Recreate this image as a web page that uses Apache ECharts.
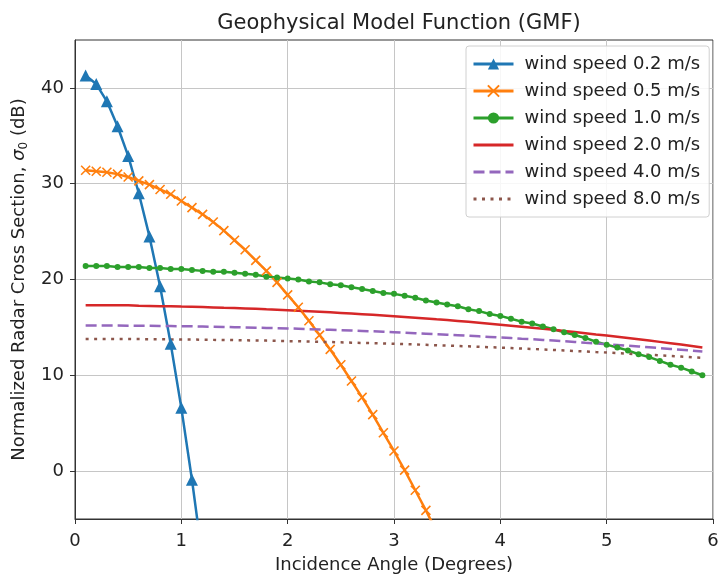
<!DOCTYPE html>
<html>
<head>
<meta charset="utf-8">
<script src="https://cdn.jsdelivr.net/npm/echarts@6/dist/echarts.min.js"></script>
<style>html,body{margin:0;padding:0;background:#fff;}#c{width:722px;height:575px;}</style>
</head>
<body>
<div id="c"></div>
<script>
// Incidence angle samples (degrees)
const angles = [0.1,0.2,0.3,0.4,0.5,0.6,0.7,0.8,0.9,1.0,1.1,1.2,1.3,1.4,1.5,1.6,1.7,1.8,1.9,2.0,
  2.1,2.2,2.3,2.4,2.5,2.6,2.7,2.8,2.9,3.0,3.1,3.2,3.3,3.4,3.5,3.6,3.7,3.8,3.9,4.0,
  4.1,4.2,4.3,4.4,4.5,4.6,4.7,4.8,4.9,5.0,5.1,5.2,5.3,5.4,5.5,5.6,5.7,5.8,5.9];

const seriesNames = ['wind speed 0.2 m/s','wind speed 0.5 m/s','wind speed 1.0 m/s',
  'wind speed 2.0 m/s','wind speed 4.0 m/s','wind speed 8.0 m/s'];

const ws02 = [41.3,40.4,38.6,36.0,32.9,29.0,24.5,19.3,13.3,6.6,-0.9,-9.2,-18.2];
const ws05 = [31.4,31.3,31.2,31.0,30.7,30.3,29.9,29.4,28.9,28.2,27.5,26.8,26.0,25.1,24.1,23.1,22.0,20.9,19.7,18.4,
  17.1,15.7,14.2,12.7,11.1,9.4,7.7,5.9,4.0,2.1,0.1,-2.0,-4.1,-6.3];
const ws10 = [21.4,21.4,21.4,21.3,21.3,21.3,21.2,21.2,21.1,21.1,21.0,20.9,20.8,20.8,20.7,20.6,20.5,20.3,20.2,20.1,
  20.0,19.8,19.7,19.5,19.4,19.2,19.0,18.8,18.6,18.5,18.3,18.1,17.8,17.6,17.4,17.2,16.9,16.7,16.4,16.2,
  15.9,15.6,15.4,15.1,14.8,14.5,14.2,13.9,13.5,13.2,12.9,12.6,12.2,11.9,11.5,11.1,10.8,10.4,10.0];
const ws20 = [17.3,17.3,17.3,17.3,17.3,17.25,17.24,17.22,17.2,17.17,17.15,17.12,17.09,17.05,17.02,16.98,16.94,16.89,16.85,16.8,
  16.74,16.69,16.63,16.57,16.51,16.45,16.38,16.31,16.24,16.17,16.09,16.01,15.93,15.84,15.76,15.67,15.58,15.48,15.38,15.28,
  15.18,15.08,14.97,14.86,14.75,14.63,14.52,14.4,14.27,14.15,14.02,13.89,13.76,13.63,13.49,13.35,13.21,13.06,12.91];
const ws40 = [15.2,15.2,15.19,15.19,15.18,15.17,15.16,15.15,15.14,15.12,15.11,15.09,15.07,15.05,15.02,15.0,14.97,14.95,14.92,14.89,
  14.86,14.82,14.79,14.75,14.71,14.67,14.63,14.59,14.54,14.5,14.45,14.4,14.35,14.3,14.24,14.19,14.13,14.07,14.01,13.95,
  13.89,13.82,13.76,13.69,13.62,13.55,13.48,13.4,13.33,13.25,13.17,13.09,13.01,12.93,12.84,12.75,12.67,12.58,12.48];
const ws80 = [13.8,13.8,13.8,13.79,13.79,13.78,13.77,13.76,13.75,13.74,13.73,13.72,13.7,13.69,13.67,13.65,13.64,13.62,13.59,13.57,
  13.55,13.52,13.5,13.47,13.44,13.41,13.38,13.35,13.32,13.29,13.25,13.22,13.18,13.14,13.1,13.06,13.02,12.98,12.93,12.89,
  12.84,12.79,12.75,12.7,12.65,12.59,12.54,12.49,12.43,12.38,12.32,12.26,12.2,12.14,12.08,12.01,11.95,11.88,11.82];

const xTicks = [0,1,2,3,4,5,6];
const yTicks = [0,10,20,30,40];

function pairs(vals){ return vals.map((v,i)=>[angles[i], v]); }

const FONT = 'DejaVu Sans';
const chart = echarts.init(document.getElementById('c'), null, {renderer:'canvas'});

const xMark = 'path://M0,0L10,10M10,0L0,10';
const hiddenMark = {color: 'rgba(0,0,0,0)', borderWidth: 0, opacity: 0};

chart.setOption({
  animation: false,
  backgroundColor: '#fff',
  textStyle: {fontFamily: FONT},
  title: {
    text: 'Geophysical Model Function (GMF)',
    left: 394, top: 8, textAlign: 'center',
    textStyle: {fontFamily: FONT, fontSize: 21, fontWeight: 'normal', color: '#222'}
  },
  grid: {left: 75, right: 9, top: 40, bottom: 56, show: true, borderColor: '#333', borderWidth: 1,
         backgroundColor: 'transparent', containLabel: false, outerBoundsMode: 'none'},
  legend: {
    orient: 'vertical', left: 466, top: 46,
    padding: [9, 9, 9, 6], itemGap: 9, itemWidth: 40, itemHeight: 14,
    backgroundColor: 'rgba(255,255,255,0.85)', borderColor: '#d0d0d0', borderWidth: 1, borderRadius: 3,
    lineStyle: {width: 3},
    textStyle: {fontFamily: FONT, fontSize: 18, color: '#222', padding: [0,0,0,6]},
    data: [
      {name: seriesNames[0]},
      {name: seriesNames[1]},
      {name: seriesNames[2]},
      {name: seriesNames[3], itemStyle: hiddenMark},
      {name: seriesNames[4], itemStyle: hiddenMark},
      {name: seriesNames[5], itemStyle: hiddenMark}
    ]
  },
  xAxis: {
    type: 'value', min: 0, max: 6, interval: 1,
    name: 'Incidence Angle (Degrees)', nameLocation: 'middle', nameGap: 37,
    nameTextStyle: {fontFamily: FONT, fontSize: 18, color: '#222'},
    axisLine: {show: true, onZero: false, lineStyle: {color: '#333', width: 1}},
    axisTick: {show: true, inside: false, length: 5, lineStyle: {color: '#333'}},
    axisLabel: {fontFamily: FONT, fontSize: 18, color: '#222', margin: 13},
    splitLine: {show: true, lineStyle: {color: '#c6c6c6', width: 1}}
  },
  yAxis: {
    type: 'value', min: -5, max: 45,
    name: '{t|Normalized Radar Cross Section, }{g|σ}{s|0}{t| (dB)}',
    nameLocation: 'middle', nameGap: 42, nameRotate: 90,
    nameTextStyle: {fontFamily: FONT, fontSize: 18, color: '#222',
      rich: {t: {fontFamily: FONT, fontSize: 18, color: '#222'},
             g: {fontFamily: FONT, fontSize: 18, fontStyle: 'italic', color: '#222'},
             s: {fontFamily: FONT, fontSize: 12, color: '#222', padding: [9,0,0,0]}}},
    axisLine: {show: true, onZero: false, lineStyle: {color: '#333', width: 1}},
    axisTick: {show: true, inside: false, length: 5, lineStyle: {color: '#333'}, customValues: yTicks},
    axisLabel: {fontFamily: FONT, fontSize: 18, color: '#222', margin: 11, customValues: yTicks},
    splitLine: {show: true, lineStyle: {color: '#c6c6c6', width: 1}}
  },
  series: [
    {name: seriesNames[0], type: 'line', data: pairs(ws02), symbol: 'triangle', symbolSize: 12, showAllSymbol: true,
     lineStyle: {color: '#1f77b4', width: 2.5}, itemStyle: {color: '#1f77b4'}, clip: true},
    {name: seriesNames[1], type: 'line', data: pairs(ws05), symbol: xMark, symbolSize: 9, showAllSymbol: true,
     lineStyle: {color: '#ff7f0e', width: 2.5}, itemStyle: {color: '#ff7f0e', borderColor: '#ff7f0e', borderWidth: 1.6}, clip: true},
    {name: seriesNames[2], type: 'line', data: pairs(ws10), symbol: 'circle', symbolSize: 6, showAllSymbol: true,
     lineStyle: {color: '#2ca02c', width: 2.5}, itemStyle: {color: '#2ca02c'}, clip: true},
    {name: seriesNames[3], type: 'line', data: pairs(ws20), symbol: 'none',
     lineStyle: {color: '#d62728', width: 2.5}, itemStyle: {color: '#d62728'}, clip: true},
    {name: seriesNames[4], type: 'line', data: pairs(ws40), symbol: 'none',
     lineStyle: {color: '#9467bd', width: 2.5, type: [11, 5]}, itemStyle: {color: '#9467bd'}, clip: true},
    {name: seriesNames[5], type: 'line', data: pairs(ws80), symbol: 'none',
     lineStyle: {color: '#8c564b', width: 2.5, type: [3, 5.5]}, itemStyle: {color: '#8c564b'}, clip: true}
  ]
});
</script>
</body>
</html>
